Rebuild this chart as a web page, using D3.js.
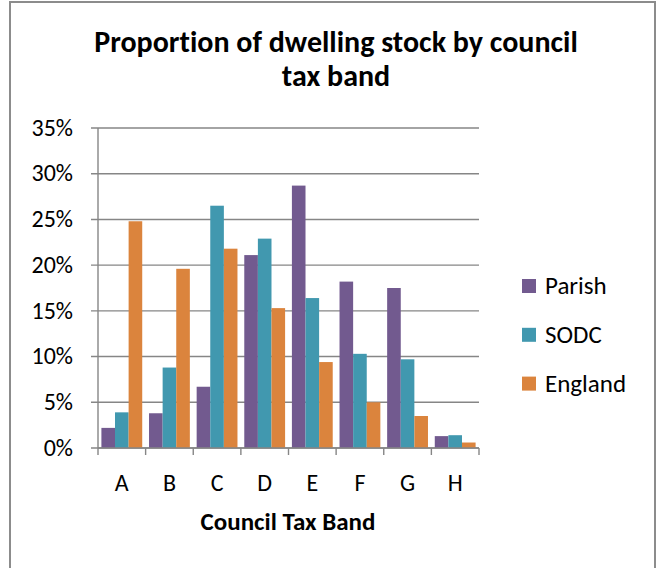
<!DOCTYPE html>
<html>
<head>
<meta charset="utf-8">
<script src="https://cdn.jsdelivr.net/npm/d3@7"></script>
<style>
  body { margin: 0; background: #fff; }
  svg text {
    font-family: Carlito, Calibri, "Open Sans", sans-serif;
    fill: #000;
    font-variant-ligatures: none;
    font-feature-settings: "liga" 0, "clig" 0, "dlig" 0, "calt" 0;
  }
</style>
</head>
<body>
<svg id="chart" width="657" height="568"></svg>
<script>
// council tax bands and the share of dwellings (%) per band
var bands = ["A", "B", "C", "D", "E", "F", "G", "H"];
var seriesNames = ["Parish", "SODC", "England"];
var parish = [2.2, 3.8, 6.7, 21.1, 28.7, 18.2, 17.5, 1.3];
var sodc = [3.9, 8.8, 26.5, 22.9, 16.4, 10.3, 9.7, 1.4];
var england = [24.8, 19.6, 21.8, 15.3, 9.4, 5.0, 3.5, 0.6];
var yTicks = [0, 5, 10, 15, 20, 25, 30, 35];
var colors = ["#725a8f", "#4198af", "#db843d"];

var svg = d3.select("#chart");

// chart frame
svg.append("rect")
  .attr("x", 10).attr("y", 2)
  .attr("width", 645).attr("height", 580)
  .attr("fill", "#fff")
  .attr("stroke", "#8c8c8c").attr("stroke-width", 2);

var m = {left: 98, right: 479, top: 128, bottom: 448};

var x0 = d3.scaleBand().domain(bands).range([m.left, m.right]).paddingInner(0).paddingOuter(0);
var x1 = d3.scaleBand().domain(seriesNames).range([0, x0.bandwidth()]).paddingInner(0).paddingOuter(0.25);
var y = d3.scaleLinear().domain([0, 35]).range([m.bottom, m.top]);

// gridlines
svg.append("g").selectAll("line")
  .data(yTicks)
  .join("line")
  .attr("x1", m.left - 7).attr("x2", m.right)
  .attr("y1", function(d) { return y(d); })
  .attr("y2", function(d) { return y(d); })
  .attr("stroke", "#868686").attr("stroke-width", 1.4);

// y axis line
svg.append("line")
  .attr("x1", m.left).attr("x2", m.left)
  .attr("y1", m.top).attr("y2", m.bottom)
  .attr("stroke", "#868686").attr("stroke-width", 1.4);

svg.append("g").selectAll("text")
  .data(yTicks)
  .join("text")
  .attr("x", 73)
  .attr("y", function(d) { return y(d); })
  .attr("dy", "0.32em")
  .attr("text-anchor", "end")
  .attr("font-size", 24)
  .text(function(d) { return d + "%"; });

// bars
var series = [parish, sodc, england];
var g = svg.append("g");
series.forEach(function(vals, si) {
  g.selectAll(null)
    .data(vals)
    .join("rect")
    .attr("x", function(d, i) { return x0(bands[i]) + x1(seriesNames[si]); })
    .attr("width", x1.bandwidth())
    .attr("y", function(d) { return y(d); })
    .attr("height", function(d) { return y(0) - y(d); })
    .attr("fill", colors[si]);
});

// x axis
svg.append("line")
  .attr("x1", m.left).attr("x2", m.right)
  .attr("y1", m.bottom).attr("y2", m.bottom)
  .attr("stroke", "#868686").attr("stroke-width", 1.6);

var xTickPos = bands.map(function(b) { return x0(b); }).concat([m.right]);
svg.append("g").selectAll("line")
  .data(xTickPos)
  .join("line")
  .attr("x1", function(d) { return d; }).attr("x2", function(d) { return d; })
  .attr("y1", m.bottom).attr("y2", m.bottom + 7)
  .attr("stroke", "#868686").attr("stroke-width", 1.4);

svg.append("g").selectAll("text")
  .data(bands)
  .join("text")
  .attr("x", function(d) { return x0(d) + x0.bandwidth() / 2; })
  .attr("y", 491)
  .attr("text-anchor", "middle")
  .attr("font-size", 24)
  .text(function(d) { return d; });

svg.append("text")
  .attr("x", 288).attr("y", 530)
  .attr("text-anchor", "middle")
  .attr("font-size", 25).attr("font-weight", "bold")
  .text("Council Tax Band");

// title
svg.append("text")
  .attr("x", 336).attr("y", 52)
  .attr("text-anchor", "middle")
  .attr("font-size", 30).attr("font-weight", "bold")
  .text("Proportion of dwelling stock by council");
svg.append("text")
  .attr("x", 336).attr("y", 86)
  .attr("text-anchor", "middle")
  .attr("font-size", 30).attr("font-weight", "bold")
  .text("tax band");

// legend
var leg = svg.append("g").selectAll("g")
  .data(seriesNames)
  .join("g")
  .attr("transform", function(d, i) { return "translate(522," + (286 + i * 48.8) + ")"; });
leg.append("rect")
  .attr("x", 0).attr("y", -7)
  .attr("width", 14).attr("height", 14)
  .attr("fill", function(d, i) { return colors[i]; });
leg.append("text")
  .attr("x", 23).attr("y", 0)
  .attr("dy", "0.32em")
  .attr("font-size", 25)
  .text(function(d) { return d; });
</script>
</body>
</html>
